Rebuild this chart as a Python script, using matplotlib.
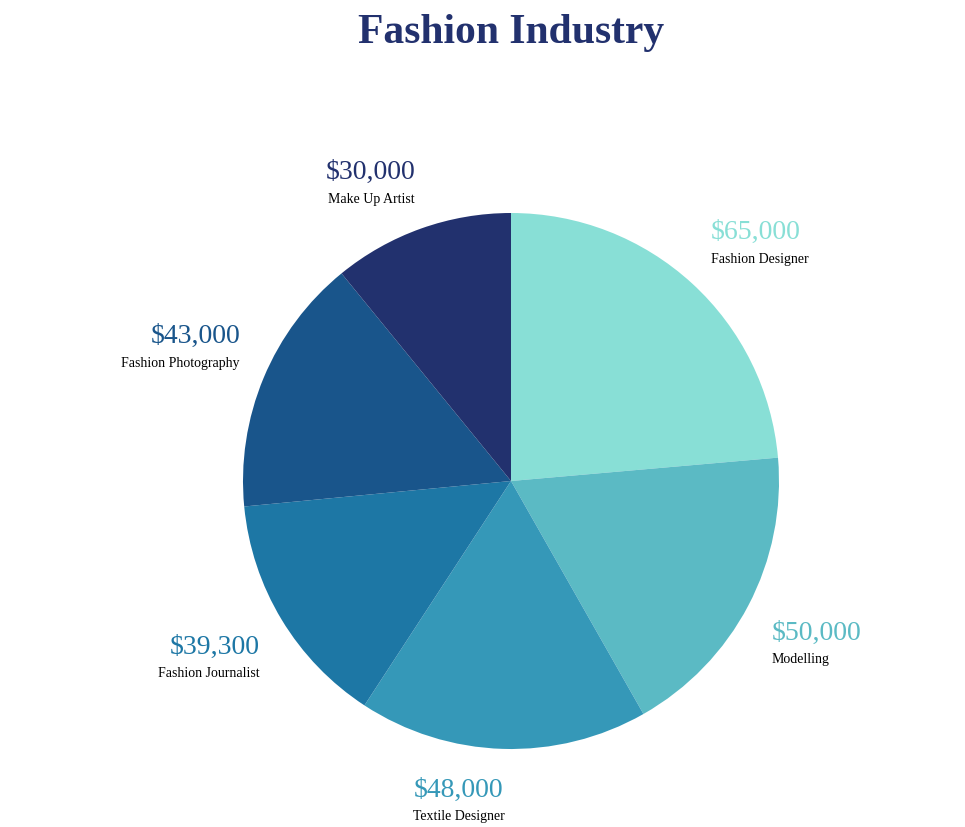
import matplotlib
matplotlib.use("Agg")
import matplotlib.pyplot as plt

categories = ["Fashion Designer", "Modelling", "Textile Designer", "Fashion Journalist", "Fashion Photography", "Make Up Artist"]
values = [65000, 50000, 48000, 39300, 43000, 30000]
value_labels = ["$65,000", "$50,000", "$48,000", "$39,300", "$43,000", "$30,000"]
colors = ["#88dfd6", "#5bbac4", "#3598b8", "#1d77a5", "#19558b", "#22316e"]

# label layout (pixel anchors from top-left, and alignment)
label_x = [711, 772, 459, 260, 240, 371]
label_y = [232, 633, 790, 647, 336, 172]
label_ha = ["left", "left", "center", "right", "right", "center"]

plt.rcParams["font.family"] = "Liberation Serif"
fig = plt.figure(figsize=(9.65, 8.28), dpi=100)
ax = fig.add_axes([0, 0, 1, 1])
cx, cy, R = 511, 346, 268
ax.pie(values, colors=colors, startangle=90, counterclock=False, center=(cx, cy), radius=R,
       wedgeprops=dict(linewidth=0))
ax.set_xlim(0, 965)
ax.set_ylim(0, 828)
ax.set_aspect("equal")
ax.axis("off")

for cat, vl, c, x, y, ha in zip(categories, value_labels, colors, label_x, label_y, label_ha):
    ax.text(x, 828 - y, vl, color=c, fontsize=20, ha=ha, va="center")
    ax.text(x, 828 - y - 27, cat, color="black", fontsize=10, ha=ha, va="center")

fig.text(511 / 965, 1 - 33 / 828, "Fashion Industry", color="#22316e", fontsize=30, fontweight="bold",
         ha="center", va="center")
fig.savefig("out.png", dpi=100)
